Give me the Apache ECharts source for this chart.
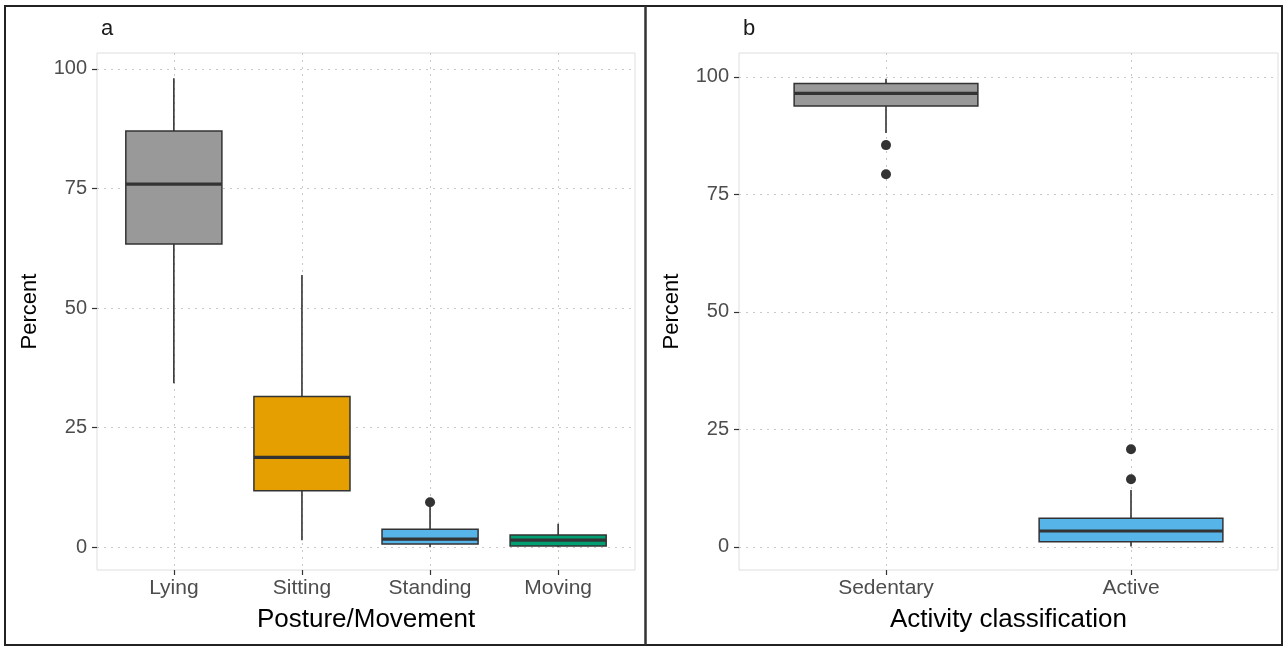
<!DOCTYPE html>
<html><head><meta charset="utf-8">
<script src="https://cdn.jsdelivr.net/npm/echarts@6/dist/echarts.min.js"></script>
<style>html,body{margin:0;padding:0;background:#fff}#c{width:1285px;height:646px}</style>
</head><body><div id="c"></div>
<script>
// Panel a: posture / movement
const catsA = ['Lying', 'Sitting', 'Standing', 'Moving'];
// [min, Q1, median, Q3, max]
const boxesA = [
  [34.3, 63.4, 75.9, 87.0, 98.0],
  [1.5, 11.8, 18.8, 31.5, 56.9],
  [0.0, 0.7, 1.7, 3.8, 8.7],
  [0.0, 0.3, 1.5, 2.6, 4.9]
];
const outliersA = [[2, 9.4]];
const colorsA = ['#999999', '#E69F00', '#56B4E9', '#009E73'];

// Panel b: activity classification
const catsB = ['Sedentary', 'Active'];
const boxesB = [
  [88.1, 93.8, 96.5, 98.6, 99.6],
  [0.1, 1.1, 3.4, 6.1, 12.1]
];
const outliersB = [[0, 85.5], [0, 79.3], [1, 20.8], [1, 14.4]];
const colorsB = ['#999999', '#56B4E9'];

const yTicks = [0, 25, 50, 75, 100];

const FONT = 'Liberation Sans, Arial, sans-serif';

function boxRender(colors) {
  return function (params, api) {
    const i = api.value(0);
    const w = api.size([1, 0])[0] * 0.75;
    const pMin = api.coord([i, api.value(1)]);
    const pQ1 = api.coord([i, api.value(2)]);
    const pMed = api.coord([i, api.value(3)]);
    const pQ3 = api.coord([i, api.value(4)]);
    const pMax = api.coord([i, api.value(5)]);
    const x = pMed[0];
    const lineStyle = { stroke: '#333333', lineWidth: 1.6 };
    return {
      type: 'group',
      children: [
        { type: 'line', shape: { x1: x, y1: pMax[1], x2: x, y2: pQ3[1] }, style: lineStyle },
        { type: 'line', shape: { x1: x, y1: pQ1[1], x2: x, y2: pMin[1] }, style: lineStyle },
        { type: 'rect', shape: { x: x - w / 2, y: pQ3[1], width: w, height: pQ1[1] - pQ3[1] },
          style: { fill: colors[i], stroke: '#333333', lineWidth: 1.5 } },
        { type: 'line', shape: { x1: x - w / 2, y1: pMed[1], x2: x + w / 2, y2: pMed[1] },
          style: { stroke: '#333333', lineWidth: 3.2 } }
      ]
    };
  };
}

function xAxis(gridIndex, cats, name) {
  return {
    type: 'value', gridIndex: gridIndex, min: -0.6, max: cats.length - 0.4,
    name: name, nameLocation: 'middle', nameGap: 37,
    nameTextStyle: { fontSize: 26, color: '#000', fontFamily: FONT },
    axisLine: { show: false, onZero: false },
    axisTick: { show: true, length: 5, lineStyle: { color: '#333', width: 1.2 }, customValues: cats.map((c, i) => i) },
    axisLabel: { customValues: cats.map((c, i) => i), formatter: v => cats[Math.round(v)],
      fontSize: 21, color: '#4d4d4d', fontFamily: FONT, margin: 8 },
    splitLine: { show: true, lineStyle: { color: '#c8c8c8', type: [2, 5], width: 1 } }
  };
}

function yAxis(gridIndex, mn, mx) {
  return {
    type: 'value', gridIndex: gridIndex, min: mn, max: mx,
    name: 'Percent', nameLocation: 'middle', nameGap: 56,
    nameTextStyle: { fontSize: 22, color: '#000', fontFamily: FONT },
    axisLine: { show: false, onZero: false },
    axisTick: { show: true, length: 5, lineStyle: { color: '#333', width: 1.2 }, customValues: yTicks },
    axisLabel: { customValues: yTicks, fontSize: 20, color: '#4d4d4d', fontFamily: FONT, margin: 10 },
    splitLine: { show: true, lineStyle: { color: '#c8c8c8', type: [2, 5], width: 1 } }
  };
}

const chart = echarts.init(document.getElementById('c'), null, { renderer: 'canvas' });
chart.setOption({
  animation: false,
  backgroundColor: '#ffffff',
  title: [
    { text: 'a', left: 96, top: 13, textStyle: { fontSize: 22, fontWeight: 'normal', color: '#1a1a1a', fontFamily: FONT } },
    { text: 'b', left: 738, top: 13, textStyle: { fontSize: 22, fontWeight: 'normal', color: '#1a1a1a', fontFamily: FONT } }
  ],
  graphic: [
    { type: 'rect', shape: { x: 5, y: 6, width: 1277, height: 639 }, style: { fill: null, stroke: '#222', lineWidth: 2 }, z: 100 },
    { type: 'line', shape: { x1: 645.5, y1: 6, x2: 645.5, y2: 645 }, style: { stroke: '#333', lineWidth: 2.5 }, z: 100 }
  ],
  grid: [
    { left: 97, top: 53, width: 538, height: 517, show: true, borderColor: '#dedede', borderWidth: 1, backgroundColor: 'transparent' },
    { left: 739, top: 53, width: 539, height: 517, show: true, borderColor: '#dedede', borderWidth: 1, backgroundColor: 'transparent' }
  ],
  xAxis: [xAxis(0, catsA, 'Posture/Movement'), xAxis(1, catsB, 'Activity classification')],
  yAxis: [yAxis(0, -4.74, 103.3), yAxis(1, -4.9, 105.1)],
  series: [
    { type: 'custom', xAxisIndex: 0, yAxisIndex: 0, renderItem: boxRender(colorsA),
      data: boxesA.map((b, i) => [i].concat(b)), encode: { x: 0, y: [1, 2, 3, 4, 5] } },
    { type: 'scatter', xAxisIndex: 0, yAxisIndex: 0, data: outliersA, symbolSize: 10,
      itemStyle: { color: '#333333', opacity: 1 } },
    { type: 'custom', xAxisIndex: 1, yAxisIndex: 1, renderItem: boxRender(colorsB),
      data: boxesB.map((b, i) => [i].concat(b)), encode: { x: 0, y: [1, 2, 3, 4, 5] } },
    { type: 'scatter', xAxisIndex: 1, yAxisIndex: 1, data: outliersB, symbolSize: 10,
      itemStyle: { color: '#333333', opacity: 1 } }
  ]
});
</script>
</body></html>
